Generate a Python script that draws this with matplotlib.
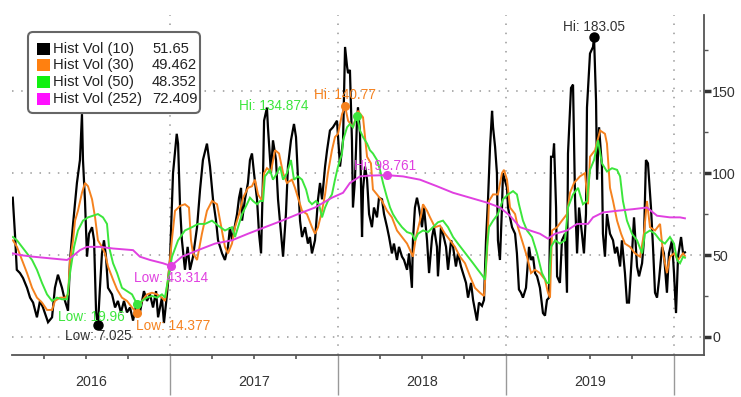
import numpy as np
import matplotlib
matplotlib.use("Agg")
import matplotlib.pyplot as plt
import matplotlib.font_manager as fm
from matplotlib.patches import FancyBboxPatch, Rectangle
from matplotlib.transforms import IdentityTransform, blended_transform_factory

# pick a narrow sans if there is one
names = {f.name for f in fm.fontManager.ttflist}
narrow = "Liberation Sans Narrow" in names
font = "Liberation Sans Narrow" if narrow else "Liberation Sans"
plt.rcParams["font.family"] = [font, "DejaVu Sans"]
fs = 11.5 if narrow else 10.3

# ---- data: time in years since 2016-01-01 ----
black_t = [0.064, 0.077, 0.088, 0.107, 0.125, 0.149, 0.167, 0.185, 0.208, 0.226, 0.244, 0.274,
           0.298, 0.315, 0.333, 0.357, 0.375, 0.393, 0.405, 0.423, 0.446, 0.464, 0.476, 0.482,
           0.494, 0.506, 0.518, 0.536, 0.548, 0.560, 0.571, 0.583, 0.595, 0.607, 0.619, 0.631,
           0.655, 0.673, 0.690, 0.708, 0.726, 0.744, 0.762, 0.780, 0.804, 0.821, 0.845, 0.863,
           0.881, 0.899, 0.917, 0.929, 0.952, 0.964, 0.982, 1.000, 1.018, 1.040, 1.048, 1.060,
           1.071, 1.089, 1.105, 1.119, 1.137, 1.161, 1.179, 1.196, 1.220, 1.238, 1.256, 1.274,
           1.286, 1.310, 1.327, 1.345, 1.357, 1.369, 1.381, 1.399, 1.411, 1.423, 1.429, 1.446,
           1.464, 1.476, 1.488, 1.500, 1.518, 1.530, 1.542, 1.554, 1.560, 1.577, 1.583, 1.601,
           1.613, 1.631, 1.643, 1.661, 1.673, 1.690, 1.702, 1.720, 1.738, 1.750, 1.762, 1.774,
           1.786, 1.804, 1.821, 1.833, 1.845, 1.863, 1.881, 1.893, 1.905, 1.923, 1.935, 1.952,
           1.970, 1.994, 2.012, 2.030, 2.042, 2.054, 2.060, 2.071, 2.083, 2.089, 2.101, 2.113,
           2.119, 2.131, 2.143, 2.149, 2.161, 2.173, 2.185, 2.202, 2.214, 2.232, 2.244, 2.262,
           2.274, 2.292, 2.304, 2.321, 2.333, 2.351, 2.363, 2.381, 2.393, 2.411, 2.423, 2.440,
           2.446, 2.458, 2.470, 2.482, 2.500, 2.512, 2.530, 2.542, 2.560, 2.571, 2.589, 2.595,
           2.613, 2.625, 2.643, 2.655, 2.673, 2.685, 2.702, 2.714, 2.732, 2.744, 2.762, 2.774,
           2.792, 2.804, 2.827, 2.839, 2.857, 2.869, 2.881, 2.893, 2.905, 2.917, 2.923, 2.935,
           2.946, 2.952, 2.964, 2.976, 2.982, 3.006, 3.012, 3.036, 3.054, 3.065, 3.077, 3.089,
           3.101, 3.119, 3.137, 3.149, 3.161, 3.173, 3.185, 3.202, 3.220, 3.232, 3.244, 3.256,
           3.268, 3.280, 3.286, 3.298, 3.304, 3.321, 3.333, 3.351, 3.363, 3.369, 3.387, 3.399,
           3.411, 3.423, 3.435, 3.452, 3.464, 3.476, 3.482, 3.500, 3.518, 3.524, 3.536, 3.542,
           3.554, 3.571, 3.577, 3.589, 3.601, 3.619, 3.637, 3.649, 3.661, 3.679, 3.690, 3.708,
           3.720, 3.732, 3.750, 3.762, 3.780, 3.792, 3.810, 3.821, 3.833, 3.845, 3.863, 3.875,
           3.887, 3.899, 3.911, 3.929, 3.940, 3.958, 3.970, 3.988, 4.000, 4.012, 4.024, 4.042,
           4.054, 4.065]
black_v = [85, 63, 41, 39, 36, 30, 24, 21, 12, 22, 18, 9,
           12, 30, 38, 30, 22, 16, 47, 69, 94, 108, 136, 108,
           83, 49, 63, 67, 59, 15, 7.025, 30, 51, 59, 49, 30,
           26, 18, 22, 15, 22, 15, 18, 10, 22, 15, 28, 22,
           26, 18, 28, 12, 24, 8.5, 26, 47, 100, 124, 118, 79,
           59, 41, 55, 41, 49, 67, 90, 108, 118, 104, 84, 71,
           59, 51, 47, 55, 67, 59, 65, 75, 85, 91, 71, 84,
           94, 108, 112, 100, 84, 63, 51, 100, 132, 140, 128, 100,
           120, 108, 84, 63, 49, 75, 104, 120, 130, 122, 96, 71,
           61, 67, 57, 61, 51, 59, 84, 94, 84, 104, 114, 126,
           128, 132, 104, 120, 177, 165, 161, 163, 120, 79, 96, 132,
           140, 124, 61, 90, 104, 96, 75, 67, 79, 73, 85, 84,
           75, 67, 61, 51, 57, 47, 55, 49, 47, 41, 51, 30,
           59, 79, 85, 79, 67, 79, 59, 39, 61, 67, 55, 37,
           67, 63, 55, 41, 59, 55, 43, 51, 43, 39, 33, 24,
           33, 22.6, 10, 21, 19, 22.6, 59, 84, 116, 138, 128, 116,
           100, 59, 47, 79, 100, 91, 79, 67, 63, 51, 29, 27,
           24, 30, 55, 47, 49, 39, 37, 30, 14.6, 13, 22.6, 24,
           110, 110, 118, 79, 37, 33, 59, 63, 27, 112, 152, 154,
           84, 51, 79, 63, 51, 75, 140, 173, 177, 183.05, 144, 96,
           128, 104, 63, 49, 75, 63, 59, 51, 55, 43, 59, 39,
           21, 21, 51, 73, 43, 37, 45, 59, 108, 106, 79, 55,
           27, 24, 35, 55, 51, 27, 51, 59, 39, 14.6, 49, 61,
           51, 51.65]

orange_t = [0.065, 0.089, 0.119, 0.149, 0.179, 0.208, 0.238, 0.268, 0.298, 0.315, 0.345, 0.375,
            0.393, 0.405, 0.423, 0.435, 0.452, 0.476, 0.494, 0.512, 0.536, 0.554, 0.571, 0.595,
            0.613, 0.631, 0.661, 0.685, 0.714, 0.744, 0.774, 0.804, 0.833, 0.863, 0.893, 0.923,
            0.952, 0.970, 0.988, 1.012, 1.030, 1.060, 1.089, 1.113, 1.125, 1.137, 1.161, 1.190,
            1.220, 1.250, 1.280, 1.298, 1.327, 1.345, 1.369, 1.387, 1.411, 1.435, 1.464, 1.488,
            1.506, 1.524, 1.548, 1.560, 1.577, 1.601, 1.625, 1.649, 1.673, 1.696, 1.726, 1.744,
            1.762, 1.786, 1.815, 1.845, 1.863, 1.881, 1.905, 1.923, 1.940, 1.964, 1.982, 2.000,
            2.024, 2.042, 2.060, 2.089, 2.119, 2.149, 2.173, 2.196, 2.208, 2.232, 2.262, 2.292,
            2.321, 2.351, 2.381, 2.411, 2.429, 2.446, 2.464, 2.488, 2.506, 2.530, 2.548, 2.577,
            2.607, 2.637, 2.667, 2.696, 2.726, 2.756, 2.786, 2.815, 2.845, 2.869, 2.887, 2.899,
            2.923, 2.952, 2.976, 2.988, 3.006, 3.024, 3.054, 3.071, 3.101, 3.125, 3.149, 3.173,
            3.202, 3.232, 3.250, 3.262, 3.274, 3.304, 3.333, 3.363, 3.381, 3.405, 3.440, 3.470,
            3.488, 3.500, 3.530, 3.560, 3.589, 3.601, 3.619, 3.637, 3.661, 3.685, 3.708, 3.738,
            3.768, 3.798, 3.821, 3.839, 3.857, 3.887, 3.917, 3.935, 3.958, 3.976, 4.000, 4.024,
            4.054, 4.065]
orange_v = [59, 55, 47, 39, 30, 24, 21, 16.5, 16.5, 22, 24, 24,
            26, 47, 59, 71, 77, 88, 94, 92, 84, 73, 59, 55,
            51, 43, 35, 29, 24, 22, 18, 14.377, 22, 26, 27, 26,
            24, 22, 35, 60, 77, 80, 81, 79, 59, 51, 47, 63,
            77, 83, 81, 71, 55, 51, 57, 67, 75, 85, 91, 92,
            96, 87, 83, 100, 103, 101, 114, 112, 100, 94, 96, 91,
            85, 77, 75, 67, 63, 67, 77, 87, 100, 114, 122, 124,
            136, 140.77, 132, 128, 138, 134, 110, 106, 90, 87, 83, 77,
            73, 65, 61, 57, 53, 49, 61, 71, 81, 77, 73, 67,
            68, 63, 59, 55, 49, 45, 37, 30, 27, 25, 51, 83,
            87, 87, 100, 102, 96, 79, 75, 67, 57, 49, 39, 41,
            39, 35, 27, 24, 65, 67, 71, 75, 88, 94, 98, 100,
            81, 110, 114, 126, 124, 118, 91, 83, 71, 63, 57, 55,
            51, 49, 63, 83, 67, 65, 69, 51, 39, 49, 51, 47,
            51, 49.462]

green_t = [0.065, 0.089, 0.119, 0.149, 0.179, 0.208, 0.238, 0.268, 0.298, 0.327, 0.357, 0.387,
           0.405, 0.429, 0.452, 0.482, 0.512, 0.542, 0.571, 0.601, 0.625, 0.637, 0.661, 0.685,
           0.714, 0.744, 0.774, 0.804, 0.833, 0.863, 0.893, 0.923, 0.952, 0.970, 0.988, 1.012,
           1.048, 1.089, 1.131, 1.167, 1.208, 1.250, 1.286, 1.327, 1.369, 1.387, 1.405, 1.429,
           1.458, 1.476, 1.494, 1.518, 1.536, 1.554, 1.565, 1.595, 1.613, 1.637, 1.655, 1.673,
           1.696, 1.720, 1.738, 1.762, 1.786, 1.810, 1.827, 1.845, 1.869, 1.887, 1.905, 1.923,
           1.940, 1.964, 1.982, 2.000, 2.024, 2.030, 2.054, 2.071, 2.089, 2.113, 2.131, 2.149,
           2.173, 2.190, 2.208, 2.232, 2.250, 2.268, 2.292, 2.310, 2.327, 2.351, 2.381, 2.411,
           2.440, 2.458, 2.476, 2.506, 2.536, 2.565, 2.595, 2.625, 2.655, 2.685, 2.714, 2.744,
           2.774, 2.804, 2.833, 2.863, 2.875, 2.887, 2.899, 2.923, 2.952, 2.982, 3.012, 3.042,
           3.065, 3.077, 3.101, 3.125, 3.155, 3.185, 3.214, 3.244, 3.256, 3.268, 3.292, 3.321,
           3.351, 3.369, 3.399, 3.429, 3.458, 3.482, 3.500, 3.524, 3.548, 3.571, 3.601, 3.631,
           3.661, 3.679, 3.696, 3.720, 3.750, 3.780, 3.810, 3.827, 3.857, 3.887, 3.917, 3.946,
           3.976, 4.000, 4.018, 4.036, 4.054, 4.065]
green_v = [61, 59, 55, 51, 47, 41, 33, 26, 22, 24, 23, 23,
           39, 55, 65, 71, 73, 74, 75, 73, 69, 55, 45, 39,
           30, 28, 26, 19.96, 22, 24, 25, 24, 26, 24, 35, 49,
           59, 65, 67, 69, 69, 71, 68, 65, 67, 61, 67, 75,
           81, 85, 83, 81, 83, 83, 98, 102, 96, 100, 104, 96,
           100, 108, 96, 98, 96, 90, 83, 81, 83, 81, 73, 79,
           83, 87, 96, 104, 112, 120, 128, 130, 128, 134.874, 126, 122,
           118, 114, 112, 108, 102, 94, 85, 79, 75, 71, 67, 64,
           63, 59, 63, 65, 64, 67, 70, 71, 67, 61, 57, 53,
           49, 45, 41, 37, 35, 55, 67, 71, 75, 84, 87, 89,
           87, 81, 71, 65, 61, 51, 39, 33, 33, 55, 59, 57,
           59, 79, 87, 91, 81, 83, 102, 108, 120, 106, 101, 103,
           102, 98, 83, 71, 63, 59, 51, 63, 65, 63, 59, 57,
           61, 57, 47, 45, 49, 48.352]

magenta_t = [0.065, 0.107, 0.185, 0.286, 0.387, 0.417, 0.464, 0.506, 0.583, 0.661, 0.780, 0.821,
             0.881, 0.958, 1.006, 1.071, 1.167, 1.268, 1.369, 1.464, 1.565, 1.667, 1.762, 1.863,
             1.964, 2.030, 2.071, 2.131, 2.190, 2.292, 2.387, 2.488, 2.589, 2.685, 2.786, 2.887,
             2.964, 3.024, 3.083, 3.143, 3.202, 3.250, 3.292, 3.363, 3.423, 3.488, 3.518, 3.577,
             3.661, 3.756, 3.839, 3.899, 3.976, 4.036, 4.065]
magenta_v = [51, 50, 49, 48, 47, 49, 53, 55, 55, 54, 53, 49,
             47, 45, 43.314, 49, 53, 57, 59, 63, 67, 71, 75, 79,
             85, 88, 94, 98, 98.5, 98.761, 98, 96, 92, 88, 85, 82,
             79, 74, 67, 65, 63, 60, 63, 65, 69, 69, 73, 76,
             77, 78, 79, 74, 73, 73, 72.409]

labels = ["Hist Vol (10)", "Hist Vol (30)", "Hist Vol (50)", "Hist Vol (252)"]
last_vals = ["51.65", "49.462", "48.352", "72.409"]
year_labels = ["2016", "2017", "2018", "2019"]

series = [(black_t, black_v), (orange_t, orange_v), (green_t, green_v), (magenta_t, magenta_v)]
line_cols = ["#000000", "#F5821F", "#3CE63C", "#E040E0"]
line_w = [1.6, 1.4, 1.4, 1.4]
box_cols = ["#000000", "#FF8010", "#10F010", "#FF10FF"]
txt_cols = ["#333333", "#F5821F", "#3CE63C", "#E040E0"]

# label offsets (px) for hi / low markers
hi_off = [(0, 10), (0, 11), (-83, 10), (-2, 9)]
lo_off = [(0, -11), (36, -13), (-46, -13), (0, -12)]

W, H = 741, 397
fig = plt.figure(figsize=(W / 100, H / 100), dpi=100)
ax = fig.add_axes([12 / W, 1 - 355 / H, (704 - 12) / W, (355 - 15) / H])

for (t, v), c, lw in zip(series, line_cols, line_w):
    ax.plot(2016 + np.array(t), v, color=c, lw=lw, solid_joinstyle="miter")

for i, ((t, v), c) in enumerate(zip(series, line_cols)):
    t = 2016 + np.array(t)
    v = np.array(v)
    ms = 6.5 if i == 0 else 5.5
    for k, off, pre in ((np.argmax(v), hi_off[i], "Hi: "), (np.argmin(v), lo_off[i], "Low: ")):
        ax.plot(t[k], v[k], "o", color=c, ms=ms, zorder=5)
        ax.annotate(pre + f"{v[k]:g}", (t[k], v[k]), xytext=off, textcoords="offset pixels",
                    ha="center", va="center", color=txt_cols[i], fontsize=fs - 0.5, zorder=6)

ax.set_xlim(2016 + 10 / 168, 2016 + 702 / 168)
ax.set_ylim(-11, 196.5)

# axes styling
for s in ["left", "top"]:
    ax.spines[s].set_visible(False)
for s in ["right", "bottom"]:
    ax.spines[s].set_color("#555555")
    ax.spines[s].set_linewidth(1.3)

ax.yaxis.tick_right()
ax.set_yticks([0, 50, 100, 150])
ax.set_yticks([25, 75, 125, 175], minor=True)
ax.tick_params(axis="y", which="major", length=5, width=2.5, color="#333333",
               labelsize=fs, labelcolor="#333333", pad=1)
ax.tick_params(axis="y", which="minor", length=3, width=1, color="#555555")

ax.set_xticks([2017, 2018, 2019, 2020])
ax.set_xticks([q for q in np.arange(2016.25, 2020.1, 0.25) if q % 1], minor=True)
ax.tick_params(axis="x", which="major", length=29, width=1, color="#999999", labelbottom=False)
ax.tick_params(axis="x", which="minor", length=3, width=1.2, color="#555555")

ax.grid(True, which="major", color="#999999", lw=1.1, linestyle=(0, (1, 5)))

# year labels centred under the visible part of each year
x0, x1 = ax.get_xlim()
tr = blended_transform_factory(ax.transData, ax.transAxes)
for k, lab in enumerate(year_labels):
    a = max(2016 + k, x0)
    b = min(2017 + k, x1)
    ax.text((a + b) / 2, -0.079, lab, transform=tr, ha="center", va="center",
            fontsize=fs, color="#333333")

# legend box drawn by hand (pixel coords, y from bottom)
idt = IdentityTransform()
fig.patches.append(FancyBboxPatch((28, H - 113), 172, 81, boxstyle="round,pad=0,rounding_size=5",
                                  transform=idt, facecolor="white", edgecolor="#666666",
                                  lw=1.5, zorder=10))
rows = [49, 65, 82, 99]
for lab, val, c, yy in zip(labels, last_vals, box_cols, rows):
    fig.patches.append(Rectangle((37, H - yy - 6), 13, 12, transform=idt,
                                 facecolor=c, edgecolor="none", zorder=11))
    fig.text(53 / W, 1 - yy / H, lab, va="center", ha="left", fontsize=fs + 0.3,
             color="#222222", zorder=12)
    fig.text(152 / W, 1 - yy / H, val, va="center", ha="left", fontsize=fs + 0.3,
             color="#222222", zorder=12)

fig.savefig("out.png", dpi=100)
